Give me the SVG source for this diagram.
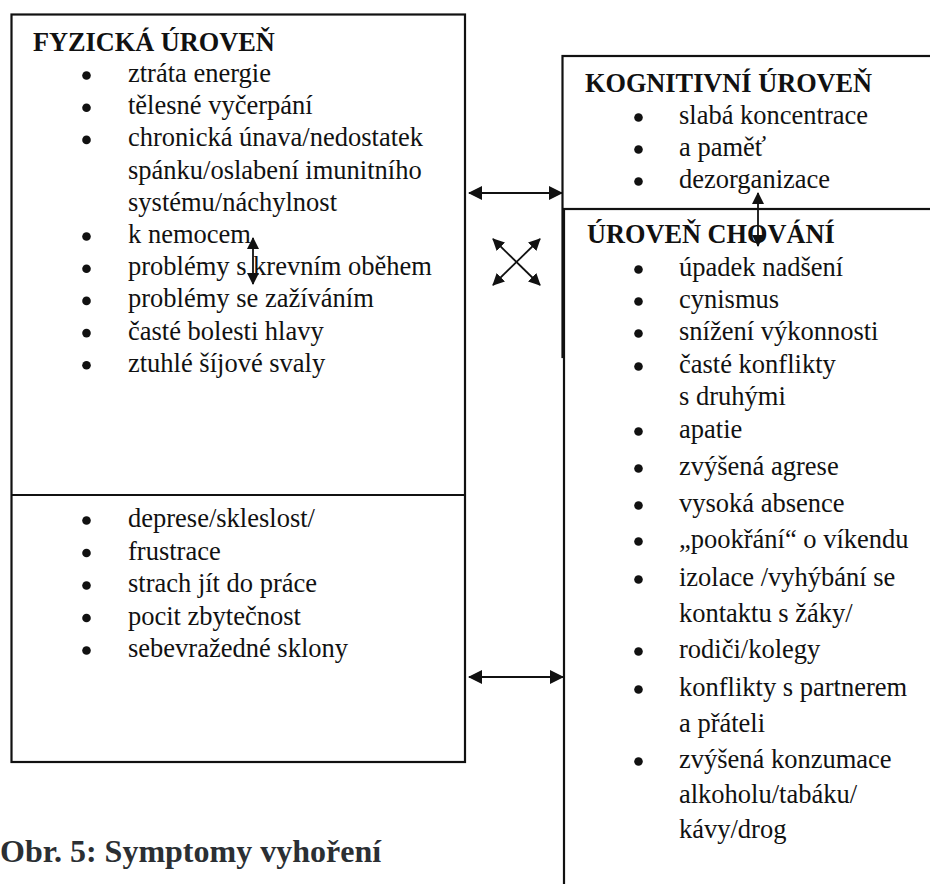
<svg xmlns="http://www.w3.org/2000/svg" width="930" height="884" viewBox="0 0 930 884">
<style>
.box{fill:#fff;stroke:#111;stroke-width:2.2}
.t{font-family:"Liberation Serif","Times New Roman",serif;font-size:26.5px;fill:#111}
.h{font-family:"Liberation Serif","Times New Roman",serif;font-size:26.3px;font-weight:bold;fill:#111}
.cap{font-family:"Liberation Serif","Times New Roman",serif;font-size:32px;font-weight:bold;fill:#2b2f33}
.b{fill:#111}
.c{stroke:#111;stroke-width:1.8;fill:none}
</style>
<defs>
<marker id="ah" viewBox="0 0 14 14" markerWidth="14" markerHeight="14" refX="13" refY="7" orient="auto-start-reverse" markerUnits="userSpaceOnUse"><path d="M0,0 L14,7 L0,14 z" fill="#111"/></marker>
<marker id="as" viewBox="0 0 12 12" markerWidth="12" markerHeight="12" refX="11" refY="6" orient="auto-start-reverse" markerUnits="userSpaceOnUse"><path d="M0,0 L12,6 L0,12 z" fill="#111"/></marker>
</defs>

<g id="fyzicka">
<rect class="box" x="11.5" y="14.5" width="453.5" height="747.5"/>
<line x1="11.5" y1="495" x2="465" y2="495" stroke="#111" stroke-width="2.2"/>
<text class="h" x="33" y="51">FYZICKÁ ÚROVEŇ</text>
<circle class="b" cx="86.5" cy="75.5" r="4.3"/><text class="t" x="128" y="82">ztráta energie</text>
<circle class="b" cx="86.5" cy="107.7" r="4.3"/><text class="t" x="128" y="114.2">tělesné vyčerpání</text>
<circle class="b" cx="86.5" cy="139.9" r="4.3"/><text class="t" x="128" y="146.4">chronická únava/nedostatek</text>
<text class="t" x="128" y="178.6">spánku/oslabení imunitního</text>
<text class="t" x="128" y="210.8">systému/náchylnost</text>
<circle class="b" cx="86.5" cy="236.5" r="4.3"/><text class="t" x="128" y="243">k nemocem</text>
<circle class="b" cx="86.5" cy="268.7" r="4.3"/><text class="t" x="128" y="275.2">problémy s krevním oběhem</text>
<circle class="b" cx="86.5" cy="300.9" r="4.3"/><text class="t" x="128" y="307.4">problémy se zažíváním</text>
<circle class="b" cx="86.5" cy="333.1" r="4.3"/><text class="t" x="128" y="339.6">časté bolesti hlavy</text>
<circle class="b" cx="86.5" cy="365.3" r="4.3"/><text class="t" x="128" y="371.8">ztuhlé šíjové svaly</text>
</g>

<g id="psychicka">
<circle class="b" cx="86.5" cy="520.5" r="4.3"/><text class="t" x="128" y="527">deprese/skleslost/</text>
<circle class="b" cx="86.5" cy="553" r="4.3"/><text class="t" x="128" y="559.5">frustrace</text>
<circle class="b" cx="86.5" cy="585.5" r="4.3"/><text class="t" x="128" y="592">strach jít do práce</text>
<circle class="b" cx="86.5" cy="618" r="4.3"/><text class="t" x="128" y="624.5">pocit zbytečnost</text>
<circle class="b" cx="86.5" cy="650.5" r="4.3"/><text class="t" x="128" y="657">sebevražedné sklony</text>
</g>

<g id="kognitivni">
<rect class="box" x="562.5" y="56" width="400" height="301"/>
<text class="h" x="585" y="91.5">KOGNITIVNÍ ÚROVEŇ</text>
<circle class="b" cx="638.5" cy="117.5" r="4.3"/><text class="t" x="679" y="124">slabá koncentrace</text>
<circle class="b" cx="638.5" cy="149.5" r="4.3"/><text class="t" x="679" y="156">a paměť</text>
<circle class="b" cx="638.5" cy="181.5" r="4.3"/><text class="t" x="679" y="188">dezorganizace</text>
</g>

<g id="chovani">
<rect class="box" x="564" y="209" width="400" height="700"/>
<text class="h" x="587" y="243">ÚROVEŇ CHOVÁNÍ</text>
<circle class="b" cx="638.5" cy="269.5" r="4.3"/><text class="t" x="679" y="276">úpadek nadšení</text>
<circle class="b" cx="638.5" cy="301.5" r="4.3"/><text class="t" x="679" y="308">cynismus</text>
<circle class="b" cx="638.5" cy="333.5" r="4.3"/><text class="t" x="679" y="340">snížení výkonnosti</text>
<circle class="b" cx="638.5" cy="366.5" r="4.3"/><text class="t" x="679" y="373">časté konflikty</text>
<text class="t" x="679" y="405">s druhými</text>
<circle class="b" cx="638.5" cy="431.5" r="4.3"/><text class="t" x="679" y="438">apatie</text>
<circle class="b" cx="638.5" cy="468.5" r="4.3"/><text class="t" x="679" y="475">zvýšená agrese</text>
<circle class="b" cx="638.5" cy="505.5" r="4.3"/><text class="t" x="679" y="512">vysoká absence</text>
<circle class="b" cx="638.5" cy="541.5" r="4.3"/><text class="t" x="679" y="548">„pookřání“ o víkendu</text>
<circle class="b" cx="638.5" cy="579.5" r="4.3"/><text class="t" x="679" y="586">izolace /vyhýbání se</text>
<text class="t" x="679" y="622">kontaktu s žáky/</text>
<circle class="b" cx="638.5" cy="651.5" r="4.3"/><text class="t" x="679" y="658">rodiči/kolegy</text>
<circle class="b" cx="638.5" cy="689.5" r="4.3"/><text class="t" x="679" y="696">konflikty s partnerem</text>
<text class="t" x="679" y="732">a přáteli</text>
<circle class="b" cx="638.5" cy="761.5" r="4.3"/><text class="t" x="679" y="768">zvýšená konzumace</text>
<text class="t" x="679" y="803">alkoholu/tabáku/</text>
<text class="t" x="679" y="838">kávy/drog</text>
</g>

<g id="connectors">
<line class="c" x1="469" y1="193" x2="562" y2="193" marker-start="url(#ah)" marker-end="url(#ah)"/>
<line class="c" x1="469" y1="677" x2="563" y2="677" marker-start="url(#ah)" marker-end="url(#ah)"/>
<line class="c" x1="493" y1="239" x2="540" y2="285" marker-start="url(#as)" marker-end="url(#as)"/>
<line class="c" x1="540" y1="239" x2="493" y2="285" marker-start="url(#as)" marker-end="url(#as)"/>
<line class="c" x1="253" y1="238" x2="253" y2="284" marker-start="url(#as)" marker-end="url(#as)"/>
<line class="c" x1="758" y1="193" x2="758" y2="246" marker-start="url(#as)" marker-end="url(#as)"/>
</g>

<text class="cap" x="0" y="862">Obr. 5: Symptomy vyhoření</text>
</svg>
